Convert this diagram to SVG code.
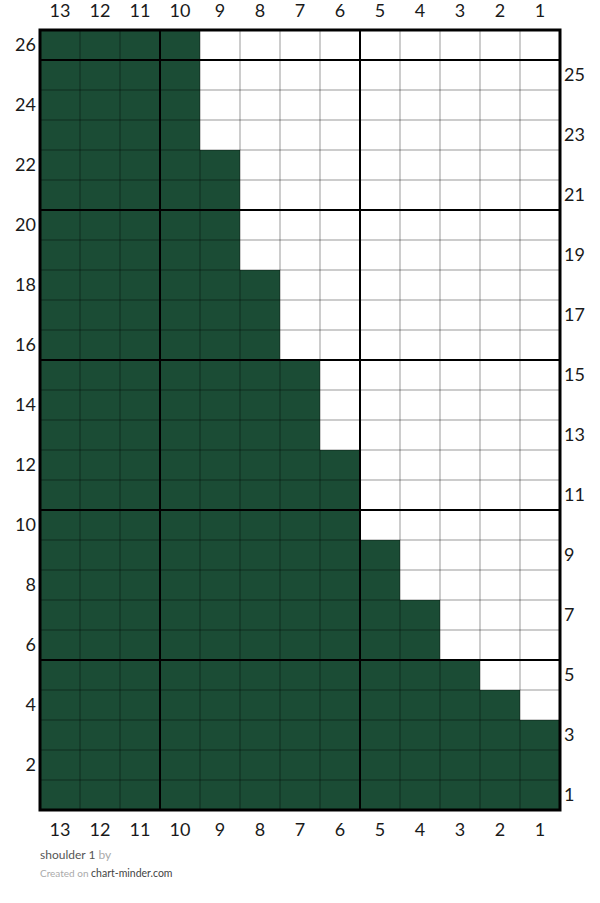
<svg xmlns="http://www.w3.org/2000/svg" width="600" height="903" viewBox="0 0 600 903">
<style>
.num{font-family:Lato,"Liberation Sans",sans-serif;font-size:18px;fill:#1a1a1a}
.top{text-anchor:middle}
.lft{text-anchor:end}
.fill{fill:#1b4c35}
.thin{stroke:#000;stroke-opacity:0.4;stroke-width:1}
.thick{stroke:#000;stroke-width:2}
.ft{font-family:Lato,"Liberation Sans",sans-serif}
</style>
<rect width="600" height="903" fill="#fff"/>
<g id="cells">
<rect class="fill" x="40" y="30" width="160" height="120"/>
<rect class="fill" x="40" y="150" width="200" height="120"/>
<rect class="fill" x="40" y="270" width="240" height="90"/>
<rect class="fill" x="40" y="360" width="280" height="90"/>
<rect class="fill" x="40" y="450" width="320" height="90"/>
<rect class="fill" x="40" y="540" width="360" height="60"/>
<rect class="fill" x="40" y="600" width="400" height="60"/>
<rect class="fill" x="40" y="660" width="440" height="30"/>
<rect class="fill" x="40" y="690" width="480" height="30"/>
<rect class="fill" x="40" y="720" width="520" height="90"/>
</g>
<g id="grid">
<path class="thin" d="M80 30V810M120 30V810M200 30V810M240 30V810M280 30V810M320 30V810M400 30V810M440 30V810M480 30V810M520 30V810"/>
<path class="thin" d="M40 90H560M40 120H560M40 150H560M40 180H560M40 240H560M40 270H560M40 300H560M40 330H560M40 390H560M40 420H560M40 450H560M40 480H560M40 540H560M40 570H560M40 600H560M40 630H560M40 690H560M40 720H560M40 750H560M40 780H560"/>
<path class="thick" d="M160 30V810M360 30V810M40 60H560M40 210H560M40 360H560M40 510H560M40 660H560"/>
<rect x="40" y="30" width="520" height="780" fill="none" stroke="#000" stroke-width="3"/>
</g>
<g id="top-labels" class="num top">
<text x="60" y="17">13</text><text x="100" y="17">12</text><text x="140" y="17">11</text><text x="180" y="17">10</text><text x="220" y="17">9</text><text x="260" y="17">8</text><text x="300" y="17">7</text><text x="340" y="17">6</text><text x="380" y="17">5</text><text x="420" y="17">4</text><text x="460" y="17">3</text><text x="500" y="17">2</text><text x="540" y="17">1</text>
</g>
<g id="bottom-labels" class="num top">
<text x="60" y="836">13</text><text x="100" y="836">12</text><text x="140" y="836">11</text><text x="180" y="836">10</text><text x="220" y="836">9</text><text x="260" y="836">8</text><text x="300" y="836">7</text><text x="340" y="836">6</text><text x="380" y="836">5</text><text x="420" y="836">4</text><text x="460" y="836">3</text><text x="500" y="836">2</text><text x="540" y="836">1</text>
</g>
<g id="left-labels" class="num lft">
<text x="36" y="51">26</text><text x="36" y="111">24</text><text x="36" y="171">22</text><text x="36" y="231">20</text><text x="36" y="291">18</text><text x="36" y="351">16</text><text x="36" y="411">14</text><text x="36" y="471">12</text><text x="36" y="531">10</text><text x="36" y="591">8</text><text x="36" y="651">6</text><text x="36" y="711">4</text><text x="36" y="771">2</text>
</g>
<g id="right-labels" class="num">
<text x="564" y="81">25</text><text x="564" y="141">23</text><text x="564" y="201">21</text><text x="564" y="261">19</text><text x="564" y="321">17</text><text x="564" y="381">15</text><text x="564" y="441">13</text><text x="564" y="501">11</text><text x="564" y="561">9</text><text x="564" y="621">7</text><text x="564" y="681">5</text><text x="564" y="741">3</text><text x="564" y="801">1</text>
</g>
<g id="footer">
<text class="ft" x="40" y="859" font-size="12" fill="#555">shoulder 1 <tspan fill="#aaa">by</tspan></text>
<text class="ft" x="40" y="877" font-size="10" fill="#aaa">Created on <tspan fill="#444" font-size="10.5">chart-minder.com</tspan></text>
</g>
</svg>
